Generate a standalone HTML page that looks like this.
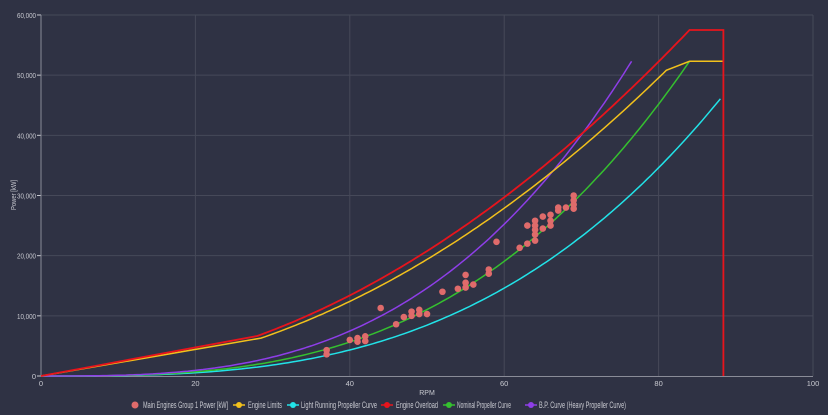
<!DOCTYPE html>
<html><head><meta charset="utf-8"><style>
html,body{margin:0;padding:0;background:#2f3244;}
svg{display:block;font-family:"Liberation Sans",sans-serif;}
</style></head><body>
<svg id="c" width="828" height="415" viewBox="0 0 828 415">
<rect width="828" height="415" fill="#2f3244"/>
<g id="grid" stroke="#464959" stroke-width="1"></g>
<g id="labels" fill="#c8c9d0" font-size="7.5"></g>
<line x1="41" y1="15" x2="41" y2="376" stroke="#8a8c98" stroke-width="1"/>
<line x1="41" y1="376.5" x2="813" y2="376.5" stroke="#8a8c98" stroke-width="1"/>
<g id="series" fill="none" stroke-width="1.5"></g>
<g id="dots" fill="#e06b6b"></g>
<text x="427" y="395" fill="#c8c9d0" font-size="7" text-anchor="middle">RPM</text>
<text transform="translate(16,195) rotate(-90)" fill="#c8c9d0" font-size="7" text-anchor="middle" textLength="30" lengthAdjust="spacingAndGlyphs">Power [kW]</text>
<g font-size="9" fill="#c8c9d0">
<circle cx="135" cy="405" r="3.5" fill="#e06b6b"/><text x="143" y="408" textLength="85" lengthAdjust="spacingAndGlyphs">Main Engines Group 1 Power [kW]</text>
<line x1="233" y1="405" x2="245" y2="405" stroke="#f2c11c" stroke-width="1.5"/><circle cx="239" cy="405" r="3" fill="#f2c11c"/><text x="248" y="408" textLength="34" lengthAdjust="spacingAndGlyphs">Engine Limits</text>
<line x1="287" y1="405" x2="299" y2="405" stroke="#22e3e8" stroke-width="1.5"/><circle cx="293" cy="405" r="3" fill="#22e3e8"/><text x="301" y="408" textLength="76" lengthAdjust="spacingAndGlyphs">Light Running Propeller Curve</text>
<line x1="381" y1="405" x2="393" y2="405" stroke="#e8141c" stroke-width="1.5"/><circle cx="387" cy="405" r="3" fill="#e8141c"/><text x="396" y="408" textLength="42" lengthAdjust="spacingAndGlyphs">Engine Overload</text>
<line x1="443" y1="405" x2="455" y2="405" stroke="#35c02f" stroke-width="1.5"/><circle cx="449" cy="405" r="3" fill="#35c02f"/><text x="457" y="408" textLength="54" lengthAdjust="spacingAndGlyphs">Nominal Propeller Curve</text>
<line x1="525" y1="405" x2="537" y2="405" stroke="#8e3ee8" stroke-width="1.5"/><circle cx="531" cy="405" r="3" fill="#8e3ee8"/><text x="539" y="408" textLength="87" lengthAdjust="spacingAndGlyphs">B.P. Curve (Heavy Propeller Curve)</text>
</g>
</svg>
<script>
var NS="http://www.w3.org/2000/svg";
function X(r){return 41+7.72*r;}function Y(p){return 376-p*0.006017;}
function el(t,a,p){var e=document.createElementNS(NS,t);for(var k in a)e.setAttribute(k,a[k]);p.appendChild(e);return e;}
var g=document.getElementById('grid'),L=document.getElementById('labels');
for(var i=0;i<=6;i++){var y=Y(i*10000);if(i>0)el('line',{x1:41,x2:813,y1:y,y2:y},g);
el('line',{x1:37,x2:41,y1:y,y2:y,stroke:'#c8c9d0'},g);
var t=el('text',{x:36,y:y+3,'text-anchor':'end'},L);t.textContent=i==0?'0':(i*10)+',000';
if(i>0){t.setAttribute('textLength','19');t.setAttribute('lengthAdjust','spacingAndGlyphs');}}
for(var i=0;i<=5;i++){var x=X(i*20);if(i>0)el('line',{x1:x,x2:x,y1:15,y2:376},g);
var t=el('text',{x:x,y:386,'text-anchor':'middle'},L);t.textContent=i*20;}
var S=document.getElementById('series');
function path(pts,c,w){var d=pts.map(function(p,i){return (i?'L':'M')+X(p[0]).toFixed(1)+','+Y(p[1]).toFixed(1);}).join('');el('path',{d:d,stroke:c,'stroke-width':w||1.5},S);}
function pw(n0,p0,n1,p1){var e=Math.log(p1/p0)/Math.log(n1/n0),a=[];for(var n=n0;n<=n1+1e-6;n+=0.5)a.push([n,p0*Math.pow(n/n0,e)]);return a;}
function cub(k,n1){var a=[];for(var n=0;n<=n1+1e-6;n+=0.5)a.push([n,k*n*n*n]);return a;}
path(cub(46700/Math.pow(88.4,3),88.4),'#22e3e8');
path(cub(52300/Math.pow(84,3),84),'#35c02f');
path(cub(52300/Math.pow(76.5,3),76.5),'#8e3ee8');
path([[0,0]].concat(pw(28.5,6300,81,50800)).concat([[84,52300],[88.4,52300]]),'#f2c11c');
path([[0,0]].concat(pw(28,6650,84,57500)).concat([[88.4,57500],[88.4,0]]),'#e8141c',1.8);
var D=[[37,3600],[37,4300],[40,6000],[41,5700],[41,6300],[42,5800],[42,6600],[44,11300],[46,8600],[47,9800],[48,10000],[48,10700],[49,10300],[49,11000],[50,10300],[52,14000],[54,14500],[55,14700],[55,15500],[55,16800],[56,15200],[58,17000],[58,17700],[59,22300],[62,21300],[63,22000],[63,25000],[64,22500],[64,23500],[64,24300],[64,25000],[64,25800],[65,24500],[65,26500],[66,25000],[66,25800],[66,26800],[67,27500],[67,28000],[68,28000],[69,27800],[69,28500],[69,29200],[69,30000]];
var Dg=document.getElementById('dots');D.forEach(function(p){el('circle',{cx:X(p[0]),cy:Y(p[1]),r:3.3},Dg);});
</script>
</body></html>
